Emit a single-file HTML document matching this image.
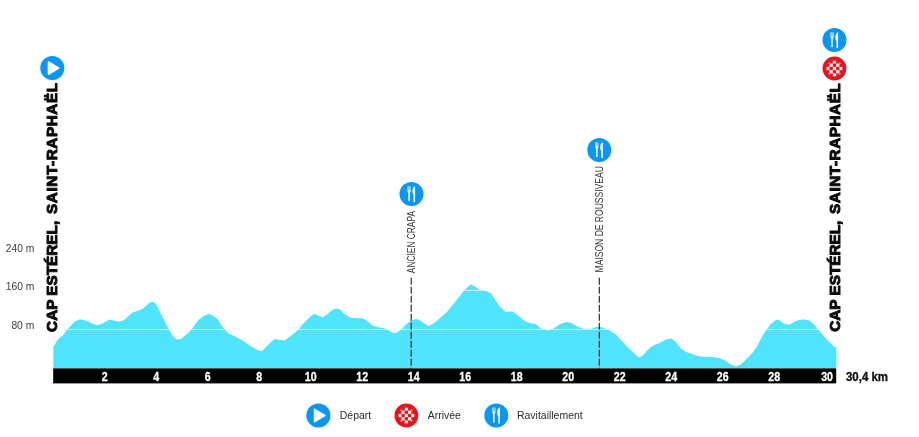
<!DOCTYPE html>
<html lang="fr">
<head>
<meta charset="utf-8">
<title>Profil - Cap Estérel, Saint-Raphaël</title>
<style>
html,body{margin:0;padding:0;background:#fff;}
body{width:919px;height:437px;overflow:hidden;font-family:"Liberation Sans",sans-serif;}
svg{display:block;}
text{font-family:"Liberation Sans",sans-serif;}
.tk{font-size:12.5px;font-weight:700;fill:#fff;stroke:#fff;stroke-width:0.3px;}
.ax{font-size:10.3px;fill:#3a3a3a;}
.lg{font-size:10.2px;fill:#2a2a2a;}
.town{font-size:15.3px;font-weight:700;fill:#0a0a0a;stroke:#0a0a0a;stroke-width:1px;stroke-linejoin:round;}
.pt{font-size:11.2px;fill:#333;}
.tot{font-size:12.6px;font-weight:700;fill:#111;stroke:#111;stroke-width:0.35px;}
</style>
</head>
<body>
<svg width="919" height="437" viewBox="0 0 919 437">
<rect width="919" height="437" fill="#fff"/>
<!-- profile -->
<clipPath id="prof"><path d="M53.3,368.5 L53.3,347.5 L57.1,340.5 L60.6,336.7 L62.8,335.6 L67.0,329.9 L71.3,324.9 L74.8,321.4 L79.8,319.2 L86.2,320.5 L91.9,323.2 L96.8,325.3 L102.1,323.8 L109.5,319.4 L113.7,320.4 L119.0,321.7 L124.2,320.0 L132.6,312.6 L139.0,310.5 L143.2,308.4 L149.5,302.7 L152.6,301.7 L155.8,303.6 L161.0,313.7 L166.3,324.2 L172.6,335.8 L176.8,339.6 L181.0,339.0 L187.4,333.7 L193.0,327.5 L198.4,320.0 L204.7,315.4 L209.0,313.7 L213.2,315.8 L217.4,319.0 L223.7,328.4 L229.0,333.7 L235.3,336.4 L242.6,340.6 L251.0,346.3 L257.4,349.9 L261.6,351.2 L264.7,348.4 L270.0,342.7 L275.3,339.0 L280.5,340.0 L284.7,340.4 L291.0,335.8 L297.4,330.5 L303.7,323.2 L310.0,316.8 L314.2,314.1 L318.4,315.4 L322.6,317.3 L326.8,314.7 L332.1,309.9 L336.3,308.4 L340.5,309.7 L344.2,313.7 L350.5,317.7 L356.8,318.3 L362.0,317.9 L367.4,321.0 L372.6,325.7 L380.0,327.4 L386.3,328.8 L391.6,332.2 L395.2,333.3 L400.0,330.5 L406.3,324.2 L411.6,320.0 L416.8,319.0 L422.0,321.7 L428.4,325.9 L432.6,324.2 L439.0,319.0 L447.4,311.6 L455.8,301.0 L464.2,290.5 L470.5,284.6 L474.7,286.3 L480.0,290.1 L486.3,291.0 L491.6,293.7 L494.2,297.9 L499.5,306.3 L505.8,312.0 L512.1,311.2 L518.4,315.8 L524.7,321.0 L530.0,323.2 L535.3,323.8 L541.6,328.4 L547.9,330.5 L553.2,328.8 L559.5,324.6 L565.8,322.1 L571.0,322.7 L576.3,325.9 L583.7,328.8 L591.0,328.8 L597.4,326.7 L602.6,327.4 L609.0,330.1 L616.3,334.7 L624.7,344.2 L633.2,352.6 L639.0,357.5 L642.6,355.8 L646.3,351.6 L652.6,345.7 L659.0,343.2 L666.3,339.4 L671.6,338.5 L675.8,342.1 L681.0,348.4 L686.3,352.0 L691.6,353.7 L696.8,355.8 L703.2,356.8 L711.6,356.8 L719.0,357.9 L724.2,360.0 L730.5,364.2 L735.8,366.3 L741.0,364.2 L746.0,359.5 L750.0,355.5 L753.7,351.3 L756.5,347.3 L760.5,339.5 L765.3,331.2 L770.6,324.2 L775.8,320.0 L779.0,320.0 L784.3,323.8 L789.5,324.8 L795.8,321.0 L803.2,319.2 L809.5,320.6 L814.8,325.3 L820.0,331.6 L826.4,339.0 L831.6,344.2 L834.8,347.4 L836.3,345.7 L836.3,368.5 Z"/></clipPath>
<path d="M53.3,368.5 L53.3,347.5 L57.1,340.5 L60.6,336.7 L62.8,335.6 L67.0,329.9 L71.3,324.9 L74.8,321.4 L79.8,319.2 L86.2,320.5 L91.9,323.2 L96.8,325.3 L102.1,323.8 L109.5,319.4 L113.7,320.4 L119.0,321.7 L124.2,320.0 L132.6,312.6 L139.0,310.5 L143.2,308.4 L149.5,302.7 L152.6,301.7 L155.8,303.6 L161.0,313.7 L166.3,324.2 L172.6,335.8 L176.8,339.6 L181.0,339.0 L187.4,333.7 L193.0,327.5 L198.4,320.0 L204.7,315.4 L209.0,313.7 L213.2,315.8 L217.4,319.0 L223.7,328.4 L229.0,333.7 L235.3,336.4 L242.6,340.6 L251.0,346.3 L257.4,349.9 L261.6,351.2 L264.7,348.4 L270.0,342.7 L275.3,339.0 L280.5,340.0 L284.7,340.4 L291.0,335.8 L297.4,330.5 L303.7,323.2 L310.0,316.8 L314.2,314.1 L318.4,315.4 L322.6,317.3 L326.8,314.7 L332.1,309.9 L336.3,308.4 L340.5,309.7 L344.2,313.7 L350.5,317.7 L356.8,318.3 L362.0,317.9 L367.4,321.0 L372.6,325.7 L380.0,327.4 L386.3,328.8 L391.6,332.2 L395.2,333.3 L400.0,330.5 L406.3,324.2 L411.6,320.0 L416.8,319.0 L422.0,321.7 L428.4,325.9 L432.6,324.2 L439.0,319.0 L447.4,311.6 L455.8,301.0 L464.2,290.5 L470.5,284.6 L474.7,286.3 L480.0,290.1 L486.3,291.0 L491.6,293.7 L494.2,297.9 L499.5,306.3 L505.8,312.0 L512.1,311.2 L518.4,315.8 L524.7,321.0 L530.0,323.2 L535.3,323.8 L541.6,328.4 L547.9,330.5 L553.2,328.8 L559.5,324.6 L565.8,322.1 L571.0,322.7 L576.3,325.9 L583.7,328.8 L591.0,328.8 L597.4,326.7 L602.6,327.4 L609.0,330.1 L616.3,334.7 L624.7,344.2 L633.2,352.6 L639.0,357.5 L642.6,355.8 L646.3,351.6 L652.6,345.7 L659.0,343.2 L666.3,339.4 L671.6,338.5 L675.8,342.1 L681.0,348.4 L686.3,352.0 L691.6,353.7 L696.8,355.8 L703.2,356.8 L711.6,356.8 L719.0,357.9 L724.2,360.0 L730.5,364.2 L735.8,366.3 L741.0,364.2 L746.0,359.5 L750.0,355.5 L753.7,351.3 L756.5,347.3 L760.5,339.5 L765.3,331.2 L770.6,324.2 L775.8,320.0 L779.0,320.0 L784.3,323.8 L789.5,324.8 L795.8,321.0 L803.2,319.2 L809.5,320.6 L814.8,325.3 L820.0,331.6 L826.4,339.0 L831.6,344.2 L834.8,347.4 L836.3,345.7 L836.3,368.5 Z" fill="#4FE3FC"/>
<g clip-path="url(#prof)" stroke="#fff" stroke-width="1" opacity="0.65">
<line x1="53" x2="837" y1="329.45" y2="329.45"/>
<line x1="53" x2="837" y1="290.45" y2="290.45"/>
<line x1="53" x2="837" y1="251.45" y2="251.45"/>
</g>
<!-- dashed markers -->
<line x1="411.2" x2="411.2" y1="277.7" y2="368.5" stroke="#1a1a1a" stroke-width="1.1" stroke-dasharray="7 2"/>
<line x1="599.3" x2="599.3" y1="277.7" y2="368.5" stroke="#1a1a1a" stroke-width="1.1" stroke-dasharray="7 2"/>
<!-- axis bar -->
<rect x="53.2" y="368.4" width="783" height="15" fill="#000"/>
<g transform="translate(0,0)">
<text transform="translate(104.7,380.5) scale(0.85,1)" text-anchor="middle" class="tk">2</text><text transform="translate(156.2,380.5) scale(0.85,1)" text-anchor="middle" class="tk">4</text><text transform="translate(207.7,380.5) scale(0.85,1)" text-anchor="middle" class="tk">6</text><text transform="translate(259.2,380.5) scale(0.85,1)" text-anchor="middle" class="tk">8</text><text transform="translate(310.7,380.5) scale(0.85,1)" text-anchor="middle" class="tk">10</text><text transform="translate(362.2,380.5) scale(0.85,1)" text-anchor="middle" class="tk">12</text><text transform="translate(413.7,380.5) scale(0.85,1)" text-anchor="middle" class="tk">14</text><text transform="translate(465.2,380.5) scale(0.85,1)" text-anchor="middle" class="tk">16</text><text transform="translate(516.7,380.5) scale(0.85,1)" text-anchor="middle" class="tk">18</text><text transform="translate(568.2,380.5) scale(0.85,1)" text-anchor="middle" class="tk">20</text><text transform="translate(619.7,380.5) scale(0.85,1)" text-anchor="middle" class="tk">22</text><text transform="translate(671.2,380.5) scale(0.85,1)" text-anchor="middle" class="tk">24</text><text transform="translate(722.7,380.5) scale(0.85,1)" text-anchor="middle" class="tk">26</text><text transform="translate(774.2,380.5) scale(0.85,1)" text-anchor="middle" class="tk">28</text><text transform="translate(833,380.5) scale(0.85,1)" text-anchor="end" class="tk">30</text>
</g>
<text x="846" y="380.7" class="tot" textLength="42" lengthAdjust="spacingAndGlyphs">30,4 km</text>
<!-- y labels -->
<text x="34.3" y="251.6" text-anchor="end" class="ax">240 m</text>
<text x="34.3" y="290.4" text-anchor="end" class="ax">160 m</text>
<text x="34.3" y="329.3" text-anchor="end" class="ax">80 m</text>
<!-- town names -->
<text transform="translate(57.2,331.9) rotate(-90)" class="town">CAP ESTÉREL,</text>
<text transform="translate(57.2,213.9) rotate(-90)" class="town" textLength="131" lengthAdjust="spacing">SAINT-RAPHAËL</text>
<text transform="translate(840.4,331.8) rotate(-90)" class="town">CAP ESTÉREL,</text>
<text transform="translate(840.4,213.9) rotate(-90)" class="town" textLength="130.7" lengthAdjust="spacing">SAINT-RAPHAËL</text>
<!-- point labels -->
<text transform="translate(415.0,273.2) rotate(-90)" class="pt" textLength="62.2" lengthAdjust="spacingAndGlyphs">ANCIEN CRAPA</text>
<text transform="translate(603.1,272.4) rotate(-90)" class="pt" textLength="106.2" lengthAdjust="spacingAndGlyphs">MAISON DE ROUSSIVEAU</text>
<!-- icons -->
<circle cx="52.3" cy="68.1" r="12.05" fill="#0C96F3"/><path transform="translate(52.3,68.1)" d="M-3.8,-6.1 L6.5,0 L-3.8,6.1 Z" fill="#fff" stroke="#fff" stroke-width="1.6" stroke-linejoin="round"/>
<circle cx="834.5" cy="40.1" r="12.0" fill="#0C96F3"/><g transform="translate(834.5,40.1)" fill="#fff" fill-opacity="0.96">
<path d="M-3.95,-7.9 h0.72 v3.9 h0.42 v-3.9 h0.72 v3.9 h0.42 v-3.9 h0.72 v4.5 c0,1.4 -0.7,1.9 -0.75,2.6 v7.3 c0,1 -1.5,1 -1.5,0 v-7.3 c-0.05,-0.7 -0.75,-1.2 -0.75,-2.6 z"/>
<path d="M3.6,-7.9 v15.4 c0,1 -1.6,1 -1.6,0 v-6.9 c-0.5,-0.4 -1.15,-1.2 -1.15,-3.1 c0,-3.3 1.2,-5.4 2.75,-5.4 z"/>
</g>
<circle cx="834.5" cy="68.5" r="11.9" fill="#E8141C"/>
<clipPath id="ck1"><circle cx="0" cy="0" r="8.1"/></clipPath>
<g transform="translate(834.5,68.5)" clip-path="url(#ck1)" fill="#fff" fill-opacity="0.93"><rect x="-11.55" y="-11.55" width="3.3" height="3.3"/><rect x="-11.55" y="-4.95" width="3.3" height="3.3"/><rect x="-11.55" y="1.65" width="3.3" height="3.3"/><rect x="-11.55" y="8.25" width="3.3" height="3.3"/><rect x="-8.25" y="-8.25" width="3.3" height="3.3"/><rect x="-8.25" y="-1.65" width="3.3" height="3.3"/><rect x="-8.25" y="4.95" width="3.3" height="3.3"/><rect x="-4.95" y="-11.55" width="3.3" height="3.3"/><rect x="-4.95" y="-4.95" width="3.3" height="3.3"/><rect x="-4.95" y="1.65" width="3.3" height="3.3"/><rect x="-4.95" y="8.25" width="3.3" height="3.3"/><rect x="-1.65" y="-8.25" width="3.3" height="3.3"/><rect x="-1.65" y="-1.65" width="3.3" height="3.3"/><rect x="-1.65" y="4.95" width="3.3" height="3.3"/><rect x="1.65" y="-11.55" width="3.3" height="3.3"/><rect x="1.65" y="-4.95" width="3.3" height="3.3"/><rect x="1.65" y="1.65" width="3.3" height="3.3"/><rect x="1.65" y="8.25" width="3.3" height="3.3"/><rect x="4.95" y="-8.25" width="3.3" height="3.3"/><rect x="4.95" y="-1.65" width="3.3" height="3.3"/><rect x="4.95" y="4.95" width="3.3" height="3.3"/><rect x="8.25" y="-11.55" width="3.3" height="3.3"/><rect x="8.25" y="-4.95" width="3.3" height="3.3"/><rect x="8.25" y="1.65" width="3.3" height="3.3"/><rect x="8.25" y="8.25" width="3.3" height="3.3"/></g>
<circle cx="411.5" cy="194.1" r="12.0" fill="#0C96F3"/><g transform="translate(411.5,194.1)" fill="#fff" fill-opacity="0.96">
<path d="M-3.95,-7.9 h0.72 v3.9 h0.42 v-3.9 h0.72 v3.9 h0.42 v-3.9 h0.72 v4.5 c0,1.4 -0.7,1.9 -0.75,2.6 v7.3 c0,1 -1.5,1 -1.5,0 v-7.3 c-0.05,-0.7 -0.75,-1.2 -0.75,-2.6 z"/>
<path d="M3.6,-7.9 v15.4 c0,1 -1.6,1 -1.6,0 v-6.9 c-0.5,-0.4 -1.15,-1.2 -1.15,-3.1 c0,-3.3 1.2,-5.4 2.75,-5.4 z"/>
</g>
<circle cx="599.3" cy="150.1" r="12.0" fill="#0C96F3"/><g transform="translate(599.3,150.1)" fill="#fff" fill-opacity="0.96">
<path d="M-3.95,-7.9 h0.72 v3.9 h0.42 v-3.9 h0.72 v3.9 h0.42 v-3.9 h0.72 v4.5 c0,1.4 -0.7,1.9 -0.75,2.6 v7.3 c0,1 -1.5,1 -1.5,0 v-7.3 c-0.05,-0.7 -0.75,-1.2 -0.75,-2.6 z"/>
<path d="M3.6,-7.9 v15.4 c0,1 -1.6,1 -1.6,0 v-6.9 c-0.5,-0.4 -1.15,-1.2 -1.15,-3.1 c0,-3.3 1.2,-5.4 2.75,-5.4 z"/>
</g>
<!-- legend -->
<circle cx="318.4" cy="415.5" r="12.05" fill="#0C96F3"/><path transform="translate(318.4,415.5)" d="M-3.8,-6.1 L6.5,0 L-3.8,6.1 Z" fill="#fff" stroke="#fff" stroke-width="1.6" stroke-linejoin="round"/>
<text x="339.8" y="419.1" class="lg" textLength="31.3" lengthAdjust="spacingAndGlyphs">Départ</text>
<circle cx="406.4" cy="415.5" r="11.9" fill="#E8141C"/>
<clipPath id="ck2"><circle cx="0" cy="0" r="8.1"/></clipPath>
<g transform="translate(406.4,415.5)" clip-path="url(#ck2)" fill="#fff" fill-opacity="0.93"><rect x="-11.55" y="-11.55" width="3.3" height="3.3"/><rect x="-11.55" y="-4.95" width="3.3" height="3.3"/><rect x="-11.55" y="1.65" width="3.3" height="3.3"/><rect x="-11.55" y="8.25" width="3.3" height="3.3"/><rect x="-8.25" y="-8.25" width="3.3" height="3.3"/><rect x="-8.25" y="-1.65" width="3.3" height="3.3"/><rect x="-8.25" y="4.95" width="3.3" height="3.3"/><rect x="-4.95" y="-11.55" width="3.3" height="3.3"/><rect x="-4.95" y="-4.95" width="3.3" height="3.3"/><rect x="-4.95" y="1.65" width="3.3" height="3.3"/><rect x="-4.95" y="8.25" width="3.3" height="3.3"/><rect x="-1.65" y="-8.25" width="3.3" height="3.3"/><rect x="-1.65" y="-1.65" width="3.3" height="3.3"/><rect x="-1.65" y="4.95" width="3.3" height="3.3"/><rect x="1.65" y="-11.55" width="3.3" height="3.3"/><rect x="1.65" y="-4.95" width="3.3" height="3.3"/><rect x="1.65" y="1.65" width="3.3" height="3.3"/><rect x="1.65" y="8.25" width="3.3" height="3.3"/><rect x="4.95" y="-8.25" width="3.3" height="3.3"/><rect x="4.95" y="-1.65" width="3.3" height="3.3"/><rect x="4.95" y="4.95" width="3.3" height="3.3"/><rect x="8.25" y="-11.55" width="3.3" height="3.3"/><rect x="8.25" y="-4.95" width="3.3" height="3.3"/><rect x="8.25" y="1.65" width="3.3" height="3.3"/><rect x="8.25" y="8.25" width="3.3" height="3.3"/></g>
<text x="427.8" y="419.1" class="lg" textLength="33" lengthAdjust="spacingAndGlyphs">Arrivée</text>
<circle cx="496.3" cy="415.5" r="12.0" fill="#0C96F3"/><g transform="translate(496.3,415.5)" fill="#fff" fill-opacity="0.96">
<path d="M-3.95,-7.9 h0.72 v3.9 h0.42 v-3.9 h0.72 v3.9 h0.42 v-3.9 h0.72 v4.5 c0,1.4 -0.7,1.9 -0.75,2.6 v7.3 c0,1 -1.5,1 -1.5,0 v-7.3 c-0.05,-0.7 -0.75,-1.2 -0.75,-2.6 z"/>
<path d="M3.6,-7.9 v15.4 c0,1 -1.6,1 -1.6,0 v-6.9 c-0.5,-0.4 -1.15,-1.2 -1.15,-3.1 c0,-3.3 1.2,-5.4 2.75,-5.4 z"/>
</g>
<text x="517" y="419.1" class="lg" textLength="65.7" lengthAdjust="spacingAndGlyphs">Ravitaillement</text>
</svg>
</body>
</html>
